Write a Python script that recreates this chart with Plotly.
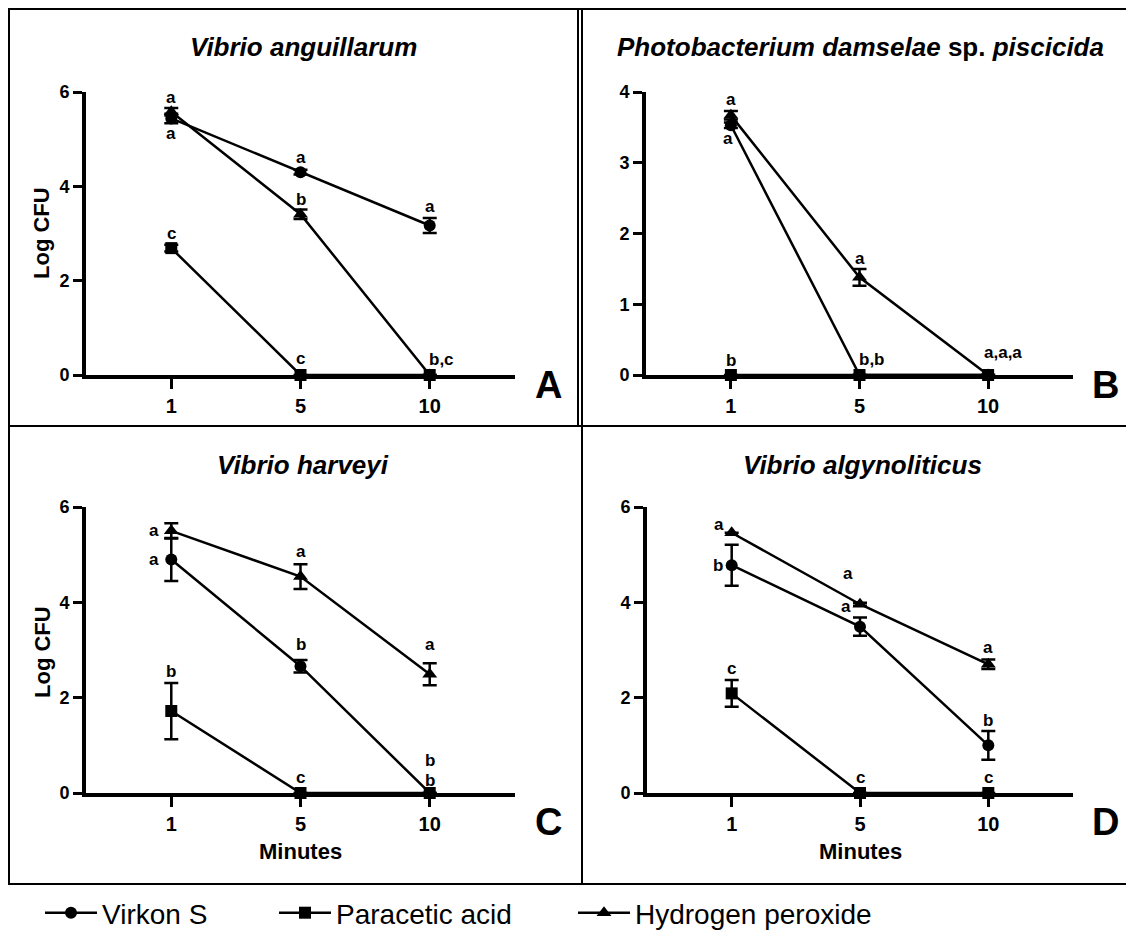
import plotly.graph_objects as go

# The page body has an 8px margin, so the figure is drawn 8px in from the window corner.
OFF = 8
W, H = 1134 - OFF, 934 - OFF

minutes = ["1", "5", "10"]
series_names = ["Virkon S", "Paracetic acid", "Hydrogen peroxide"]
series_symbols = ["circle", "square", "triangle-up"]

panel_titles = [
    "<i>Vibrio anguillarum</i>",
    "<i>Photobacterium damselae</i> sp. <i>piscicida</i>",
    "<i>Vibrio harveyi</i>",
    "<i>Vibrio algynoliticus</i>",
]
panel_letters = ["A", "B", "C", "D"]
y_max = [6, 4, 6, 6]
y_ticks = [[0, 2, 4, 6], [0, 1, 2, 3, 4], [0, 2, 4, 6], [0, 2, 4, 6]]

# mean Log CFU per panel: [Virkon S, Paracetic acid, Hydrogen peroxide]
a_virkon = [5.44, 4.30, 3.17]
a_paracetic = [2.69, 0.0, 0.0]
a_peroxide = [5.58, 3.41, 0.0]
a_virkon_err = [0.10, 0.05, 0.16]
a_paracetic_err = [0.07, 0.0, 0.0]
a_peroxide_err = [0.08, 0.10, 0.0]

b_virkon = [3.53, 0.0, 0.0]
b_paracetic = [0.0, 0.0, 0.0]
b_peroxide = [3.67, 1.38, 0.0]
b_virkon_err = [0.04, 0.0, 0.0]
b_paracetic_err = [0.0, 0.0, 0.0]
b_peroxide_err = [0.06, 0.12, 0.0]

c_virkon = [4.90, 2.66, 0.0]
c_paracetic = [1.72, 0.0, 0.0]
c_peroxide = [5.50, 4.54, 2.49]
c_virkon_err = [0.45, 0.13, 0.0]
c_paracetic_err = [0.59, 0.0, 0.0]
c_peroxide_err = [0.16, 0.26, 0.23]

d_virkon = [4.78, 3.49, 1.00]
d_paracetic = [2.09, 0.0, 0.0]
d_peroxide = [5.46, 3.96, 2.70]
d_virkon_err = [0.43, 0.19, 0.30]
d_paracetic_err = [0.28, 0.0, 0.0]
d_peroxide_err = [0.0, 0.03, 0.10]

panel_values = [
    [a_virkon, a_paracetic, a_peroxide],
    [b_virkon, b_paracetic, b_peroxide],
    [c_virkon, c_paracetic, c_peroxide],
    [d_virkon, d_paracetic, d_peroxide],
]
panel_errors = [
    [a_virkon_err, a_paracetic_err, a_peroxide_err],
    [b_virkon_err, b_paracetic_err, b_peroxide_err],
    [c_virkon_err, c_paracetic_err, c_peroxide_err],
    [d_virkon_err, d_paracetic_err, d_peroxide_err],
]

# significance letters: (panel, series index, minute index, text)
sig_letters = [
    (0, 2, 0, "a"), (0, 0, 0, "a"), (0, 0, 1, "a"), (0, 2, 1, "b"),
    (0, 0, 2, "a"), (0, 1, 0, "c"), (0, 1, 1, "c"), (0, 1, 2, "b,c"),
    (1, 2, 0, "a"), (1, 0, 0, "a"), (1, 2, 1, "a"), (1, 1, 0, "b"),
    (1, 1, 1, "b,b"), (1, 1, 2, "a,a,a"),
    (2, 2, 0, "a"), (2, 0, 0, "a"), (2, 2, 1, "a"), (2, 0, 1, "b"),
    (2, 2, 2, "a"), (2, 1, 0, "b"), (2, 1, 1, "c"), (2, 0, 2, "b"), (2, 1, 2, "b"),
    (3, 2, 0, "a"), (3, 0, 0, "b"), (3, 2, 1, "a"), (3, 0, 1, "a"),
    (3, 2, 2, "a"), (3, 0, 2, "b"), (3, 1, 0, "c"), (3, 1, 1, "c"), (3, 1, 2, "c"),
]
# pixel offsets (xshift, yshift) for each letter, same order
sig_offsets = [
    (0, 14), (0, -15), (0, 15), (0, 15), (0, 19), (0, 15), (0, 17), (12, 16),
    (0, 16), (-3, -13), (0, 19), (0, 15), (12, 16), (15, 23),
    (-17, 0), (-17, 0), (0, 25), (0, 22), (0, 30), (0, 40), (0, 16), (0, 33), (0, 13),
    (-13, 8), (-14, 0), (-12, 31), (-14, 20), (0, 17), (0, 25), (0, 25), (0, 16), (0, 16),
]

FONT = "Liberation Sans, Arial, sans-serif"

# layout geometry in window pixels: (x_left, x_right, y_top, y_bottom)
panel_px = [
    (86, 515, 92, 375),
    (646, 1073, 92, 375),
    (86, 515, 507, 793),
    (647, 1073, 507, 793),
]
title_px = [(303, 47), (860, 47), (303, 465), (862, 465)]
letter_px = [(548, 385), (1105, 385), (548, 822), (1105, 822)]
ytitle_px = [(42, 233), None, (42, 652), None]
xtitle_px = [None, None, (300, 851), (860, 851)]


def px(x):
    return (x - OFF) / W


def py(y):
    return 1 - (y - OFF) / H


fig = go.Figure()

for p in range(4):
    sfx = "" if p == 0 else str(p + 1)
    for s in range(3):
        fig.add_trace(go.Scatter(
            x=minutes, y=panel_values[p][s],
            mode="lines+markers",
            name=series_names[s],
            xaxis="x" + sfx, yaxis="y" + sfx,
            line=dict(color="black", width=2.5),
            marker=dict(symbol=series_symbols[s], size=12 if s != 2 else 13, color="black"),
            error_y=dict(type="data", array=panel_errors[p][s], color="black",
                         thickness=2.5, width=7, visible=True),
            cliponaxis=False,
            showlegend=(p == 0),
            legend=["legend", "legend2", "legend3"][s],
        ))

    xl, xr, yt, yb = panel_px[p]
    fig.layout["xaxis" + sfx] = dict(
        domain=[px(xl), px(xr)], anchor="y" + sfx,
        type="category", range=[-0.66, 2.66],
        showline=True, linewidth=4, linecolor="black",
        ticks="outside", ticklen=10, tickwidth=3, tickcolor="black",
        showgrid=False, zeroline=False,
        tickfont=dict(family=FONT, size=20, color="black", weight="bold"),
    )
    fig.layout["yaxis" + sfx] = dict(
        domain=[py(yb), py(yt)], anchor="x" + sfx,
        range=[0, y_max[p]], tickvals=y_ticks[p],
        showline=True, linewidth=4, linecolor="black",
        ticks="outside", ticklen=9, tickwidth=3, tickcolor="black",
        showgrid=False, zeroline=False,
        tickfont=dict(family=FONT, size=18, color="black", weight="bold"),
    )

annotations = []
for p in range(4):
    tx, ty = title_px[p]
    annotations.append(dict(
        x=px(tx), y=py(ty), xref="paper", yref="paper", showarrow=False,
        text="<b>" + panel_titles[p] + "</b>", xanchor="center", yanchor="middle",
        font=dict(family=FONT, size=26, color="black"),
    ))
    lx, ly = letter_px[p]
    annotations.append(dict(
        x=px(lx), y=py(ly), xref="paper", yref="paper", showarrow=False,
        text="<b>" + panel_letters[p] + "</b>", xanchor="center", yanchor="middle",
        font=dict(family=FONT, size=38, color="black"),
    ))
    if ytitle_px[p]:
        ax, ay = ytitle_px[p]
        annotations.append(dict(
            x=px(ax), y=py(ay), xref="paper", yref="paper", showarrow=False,
            text="<b>Log CFU</b>", textangle=-90, xanchor="center", yanchor="middle",
            font=dict(family=FONT, size=22, color="black"),
        ))
    if xtitle_px[p]:
        ax, ay = xtitle_px[p]
        annotations.append(dict(
            x=px(ax), y=py(ay), xref="paper", yref="paper", showarrow=False,
            text="<b>Minutes</b>", xanchor="center", yanchor="middle",
            font=dict(family=FONT, size=22, color="black"),
        ))

for (p, s, m, txt), (dx, dy) in zip(sig_letters, sig_offsets):
    sfx = "" if p == 0 else str(p + 1)
    annotations.append(dict(
        x=m, y=panel_values[p][s][m], xref="x" + sfx, yref="y" + sfx,
        text="<b>" + txt + "</b>", showarrow=False, xshift=dx, yshift=dy,
        xanchor="center", yanchor="middle",
        font=dict(family=FONT, size=17, color="black"),
    ))

line_style = dict(color="black", width=2)
shapes = [
    dict(type="rect", xref="paper", yref="paper", x0=px(9), x1=px(1132), y0=py(884), y1=py(9), line=line_style),
    dict(type="line", xref="paper", yref="paper", x0=px(9), x1=px(1132), y0=py(426), y1=py(426), line=line_style),
    dict(type="line", xref="paper", yref="paper", x0=px(578), x1=px(578), y0=py(426), y1=py(9), line=line_style),
    dict(type="line", xref="paper", yref="paper", x0=px(582), x1=px(582), y0=py(884), y1=py(9), line=line_style),
]

legend_common = dict(orientation="h", xanchor="left", yanchor="middle",
                     font=dict(family=FONT, size=28, color="black"),
                     bgcolor="rgba(0,0,0,0)", borderwidth=0, itemwidth=52)

fig.update_layout(
    width=W, height=H,
    margin=dict(l=0, r=0, t=0, b=0, autoexpand=False),
    paper_bgcolor="white", plot_bgcolor="white",
    annotations=annotations, shapes=shapes,
    legend=dict(x=px(40), y=py(913), **legend_common),
    legend2=dict(x=px(274), y=py(913), **legend_common),
    legend3=dict(x=px(573), y=py(913), **legend_common),
)

fig.write_html("out.html")
